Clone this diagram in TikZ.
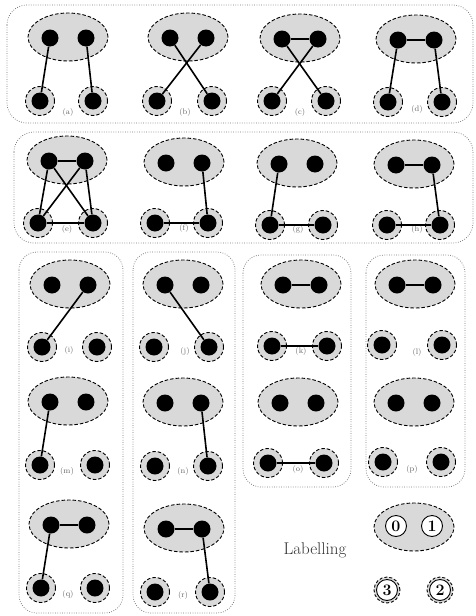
\documentclass[tikz,border=0pt]{standalone}
\usetikzlibrary{shapes.geometric}
\tikzset{
  grp/.style={ellipse,draw,line width=0.9pt,dash pattern=on 3.5pt off 2pt,fill=black!15,minimum width=80pt,minimum height=48pt,inner sep=0pt},
  dotn/.style={circle,fill=black,minimum size=17pt,inner sep=0pt},
  ring/.style={circle,draw,line width=0.9pt,dash pattern=on 3.5pt off 2pt,fill=black!15,minimum size=29pt,inner sep=0pt},
  lring/.style={circle,draw,line width=0.9pt,dash pattern=on 3pt off 2pt,fill=black!15,minimum size=26pt,inner sep=0pt},
  num/.style={circle,draw,line width=0.9pt,fill=white,minimum size=21pt,inner sep=0pt,font=\fontsize{16}{18}\selectfont\bfseries},
  lbl/.style={text=black!60,font=\fontsize{8}{9}\selectfont,inner sep=0pt},
  edge/.style={line width=1.6pt,black},
  frame/.style={draw=black!55,line width=0.75pt,dash pattern=on 0.75pt off 1.6pt,rounded corners=20pt},
}
\newcommand\mypanel[8]{%
  \node[grp] (#1e) at (#2,#3) {};
  \node[dotn] (#1n0) at (#2-18,#3+1) {};
  \node[dotn] (#1n1) at (#2+18,#3+1) {};
  \node[ring] (#1r3) at (#4,#6) {};
  \node[dotn] (#1n3) at (#4,#6) {};
  \node[ring] (#1r2) at (#5,#6) {};
  \node[dotn] (#1n2) at (#5,#6) {};
  \node[lbl] (#1l) at (#7,#8) {(#1)};
}
\begin{document}
\begin{tikzpicture}[x=1pt,y=-1pt]
\useasboundingbox (0,0) rectangle (475,616);
% frames
\draw[frame] (7,5) rectangle (473,123);
\draw[frame] (14,132) rectangle (473,243);
\draw[frame,rounded corners=18pt] (19,252) rectangle (123,613);
\draw[frame,rounded corners=18pt] (133,252) rectangle (235,613);
\draw[frame,rounded corners=18pt] (243,255) rectangle (351,487);
\draw[frame,rounded corners=18pt] (366,255) rectangle (465,487);
% panels
\mypanel{a}{68}{37}{40}{93}{101}{68}{112}
\mypanel{b}{188}{37}{157}{212}{101}{185}{112}
\mypanel{c}{300}{38}{272}{326}{101}{300}{112}
\mypanel{d}{416}{39}{388}{442}{102}{417}{109}
\mypanel{e}{67}{160}{38}{93}{223}{67}{229}
\mypanel{f}{184}{162}{155}{208}{223}{184}{228}
\mypanel{g}{297}{163}{270}{323}{225}{298}{229}
\mypanel{h}{414}{164}{387}{440}{225}{417}{229}
\mypanel{i}{70}{284}{42}{97}{347}{69}{350}
\mypanel{j}{183}{284}{154}{209}{347}{185}{351}
\mypanel{k}{301}{284}{272}{327}{346}{301}{351}
\mypanel{l}{415}{284}{382}{442}{345}{417}{352}
\mypanel{m}{68}{401}{40}{95}{465}{67}{471}
\mypanel{n}{183}{402}{155}{208}{466}{183}{471}
\mypanel{o}{298}{402}{268}{324}{463}{298}{469}
\mypanel{p}{414}{402}{383}{441}{462}{412}{469}
\mypanel{q}{69}{524}{41}{95}{588}{68}{594}
\mypanel{r}{184}{528}{155}{210}{592}{183}{595}
% edges
\draw[edge] (an0) -- (an3); \draw[edge] (an1) -- (an2);
\draw[edge] (bn0) -- (bn2); \draw[edge] (bn1) -- (bn3);
\draw[edge] (cn0) -- (cn1); \draw[edge] (cn0) -- (cn2); \draw[edge] (cn1) -- (cn3);
\draw[edge] (dn0) -- (dn1); \draw[edge] (dn0) -- (dn3); \draw[edge] (dn1) -- (dn2);
\draw[edge] (en0) -- (en1); \draw[edge] (en0) -- (en3); \draw[edge] (en1) -- (en2);
\draw[edge] (en0) -- (en2); \draw[edge] (en1) -- (en3); \draw[edge] (en3) -- (en2);
\draw[edge] (fn1) -- (fn2); \draw[edge] (fn3) -- (fn2);
\draw[edge] (gn0) -- (gn3); \draw[edge] (gn3) -- (gn2);
\draw[edge] (hn0) -- (hn1); \draw[edge] (hn1) -- (hn2); \draw[edge] (hn3) -- (hn2);
\draw[edge] (in1) -- (in3);
\draw[edge] (jn0) -- (jn2);
\draw[edge] (kn0) -- (kn1); \draw[edge] (kn3) -- (kn2);
\draw[edge] (ln0) -- (ln1);
\draw[edge] (mn0) -- (mn3);
\draw[edge] (nn1) -- (nn2);
\draw[edge] (on3) -- (on2);
\draw[edge] (qn0) -- (qn1); \draw[edge] (qn0) -- (qn3);
\draw[edge] (rn0) -- (rn1); \draw[edge] (rn1) -- (rn2);
% labelling
\node[grp] (Le) at (414,527) {};
\node[num] (L0) at (396,526) {0};
\node[num] (L1) at (432,526) {1};
\node[lring] (Lr3) at (387,590) {};
\node[num] (L3) at (387,590) {3};
\node[lring] (Lr2) at (440,590) {};
\node[num] (L2) at (440,590) {2};
\node[text=black!80,font=\fontsize{17}{20}\selectfont] (lab) at (315,550) {Labelling};
\end{tikzpicture}
\end{document}
